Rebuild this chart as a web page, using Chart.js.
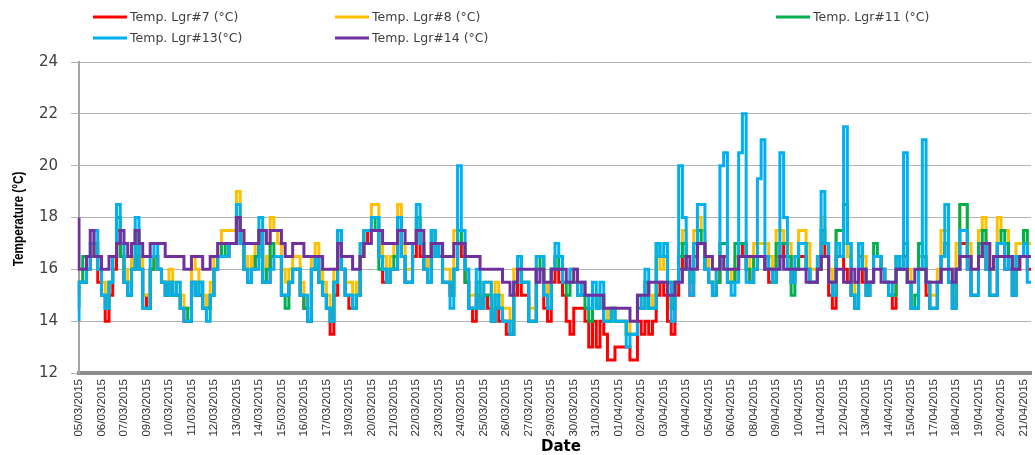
<!DOCTYPE html>
<html>
<head>
<meta charset="utf-8">
<script src="https://cdn.jsdelivr.net/npm/chart.js@4.4.0/dist/chart.umd.min.js"></script>
<style>
    html, body { margin: 0; padding: 0; background: #fff; }
    #wrap { width: 1035px; height: 455px; }
</style>
</head>
<body>
<div id="wrap"><canvas id="tempChart" width="1035" height="455"></canvas></div>
<script>
// one date label every 6 readings
const dateTicks = ['05/03/2015', '06/03/2015', '07/03/2015', '09/03/2015', '10/03/2015', '11/03/2015', '12/03/2015',
    '13/03/2015', '14/03/2015', '15/03/2015', '16/03/2015', '17/03/2015', '19/03/2015', '20/03/2015', '21/03/2015',
    '22/03/2015', '23/03/2015', '24/03/2015', '25/03/2015', '26/03/2015', '27/03/2015', '29/03/2015', '30/03/2015',
    '31/03/2015', '01/04/2015', '02/04/2015', '03/04/2015', '04/04/2015', '05/04/2015', '06/04/2015', '08/04/2015',
    '09/04/2015', '10/04/2015', '11/04/2015', '12/04/2015', '13/04/2015', '14/04/2015', '15/04/2015', '17/04/2015',
    '18/04/2015', '19/04/2015', '20/04/2015', '21/04/2015'];
const readingsPerTick = 6;

const lgr7 = [
    15.5, 15.5, 15.5, 16, 16.5, 16.5, 15.5, 15, 14, 15,
    16, 17.5, 16.5, 15.5, 15, 16, 16.5, 16, 15, 14.5,
    16, 16.5, 16, 15.5, 15, 15.5, 15, 15, 14.5, 14,
    14, 15.5, 15, 15, 14.5, 14.5, 15, 16, 16.5, 16.5,
    16.5, 17, 17, 18, 17, 16, 15.5, 16, 16.5, 17.5,
    15.5, 15.5, 16.5, 16.5, 16.5, 15, 15, 15.5, 16, 16,
    15, 14.5, 14, 16, 16, 15.5, 15, 14.5, 13.5, 15,
    17, 16, 15, 14.5, 14.5, 15, 16.5, 17, 17.5, 17.5,
    17.5, 16.5, 15.5, 15.5, 16, 16, 17.5, 16.5, 15.5, 15.5,
    16.5, 17.5, 16.5, 16, 15.5, 17, 16.5, 16.5, 15.5, 15.5,
    15, 16, 17, 16.5, 15.5, 14.5, 14, 15, 14.5, 15,
    14.5, 14, 14.5, 14, 14, 13.5, 13.5, 15, 16, 15,
    15, 14, 14, 16, 16, 14.5, 14, 15.5, 16, 15.5,
    15, 14, 13.5, 14.5, 14.5, 14.5, 14, 13, 14, 13,
    14, 13.5, 12.5, 12.5, 13, 13, 13, 13, 12.5, 12.5,
    14, 13.5, 14, 13.5, 14, 15, 15.5, 15, 14, 13.5,
    15, 16, 16.5, 16, 15, 16.5, 17, 17, 16, 15.5,
    15, 15.5, 16.5, 16.5, 15.5, 15.5, 16, 16.5, 17, 16,
    15.5, 16, 16.5, 16.5, 16, 15.5, 15.5, 16.5, 17, 16.5,
    16.5, 15.5, 16, 16.5, 16.5, 16, 15.5, 15.5, 16, 17,
    16.5, 15, 14.5, 16.5, 16.5, 16, 15.5, 15, 14.5, 16.5,
    15.5, 15, 15.5, 16.5, 16.5, 16, 15.5, 15, 14.5, 16,
    16, 16.5, 15.5, 14.5, 14.5, 16, 16, 15, 14.5, 14.5,
    15.5, 16.5, 17, 15.5, 14.5, 16, 17, 17, 16, 15,
    15, 16.5, 17, 16, 15, 15, 17, 17, 16, 16,
    15, 16, 16.5, 16.5, 16
];

const lgr8 = [
    15, 15.5, 16, 16.5, 16.5, 17, 16, 15.5, 14.5, 15.5,
    16.5, 18, 17, 16, 15.5, 16.5, 17.5, 16.5, 15, 15,
    16, 16.5, 16, 15.5, 15.5, 16, 15.5, 15.5, 15, 14.5,
    14.5, 16.5, 16, 15.5, 15, 14.5, 15.5, 16.5, 17, 17.5,
    17.5, 17.5, 17.5, 19, 17.5, 16.5, 16, 16.5, 17, 17.5,
    16, 16.5, 18, 17.5, 17, 16, 15.5, 16, 16.5, 16.5,
    15.5, 15, 14.5, 16.5, 17, 16, 15.5, 15, 14.5, 16,
    17.5, 16, 15.5, 15.5, 15, 15.5, 17, 17.5, 17.5, 18.5,
    18.5, 17, 16.5, 16, 16.5, 17, 18.5, 17, 16, 16,
    17, 18, 17, 16.5, 15.5, 17.5, 17, 17, 16, 16,
    15.5, 17.5, 17.5, 17, 16, 15, 15, 15.5, 15, 15.5,
    15.5, 14.5, 15.5, 15, 14.5, 14.5, 14, 16, 16.5, 15.5,
    15.5, 14.5, 14.5, 16.5, 16.5, 15.5, 15, 16, 16.5, 16.5,
    15.5, 15.5, 16, 15.5, 15, 15.5, 15, 14.5, 15, 14.5,
    15, 14.5, 14, 14.5, 14, 14, 14, 13.5, 14, 14,
    15, 14.5, 15.5, 14.5, 15, 16.5, 16, 16.5, 15.5, 14.5,
    15.5, 17, 17.5, 16, 15.5, 17.5, 18, 17.5, 16.5, 15.5,
    15.5, 16, 17, 17, 16, 15.5, 16.5, 17, 17, 16.5,
    16, 17, 17, 17, 17, 16.5, 16, 17.5, 17.5, 17,
    17, 16.5, 16.5, 17.5, 17.5, 17, 16, 16, 16.5, 18,
    17, 16, 15.5, 17.5, 17.5, 17, 16.5, 15.5, 15, 17,
    16.5, 15.5, 15.5, 16.5, 16.5, 16, 15.5, 15, 15, 16.5,
    16.5, 17, 16, 15, 15, 16.5, 16.5, 15.5, 15, 15,
    16, 17.5, 17.5, 16, 15, 17, 18.5, 18.5, 17, 16,
    16, 17.5, 18, 17, 16, 16, 18, 17.5, 17.5, 16.5,
    16, 17, 17, 17.5, 17
];

const lgr11 = [
    14.5, 15.5, 16.5, 16.5, 16.5, 17, 16, 15, 14.5, 15.5,
    16.5, 18, 16.5, 15.5, 15, 16, 17.5, 16, 14.5, 14.5,
    16, 16.5, 16, 15.5, 15, 15.5, 15, 15, 14.5, 14.5,
    14, 15.5, 15, 15.5, 14.5, 14.5, 15, 16, 16.5, 17,
    16.5, 17, 17, 18, 17, 16, 15.5, 16, 16.5, 17.5,
    15.5, 16, 17, 16.5, 16.5, 15, 14.5, 15.5, 16, 16,
    15, 14.5, 14, 16, 16.5, 15.5, 15, 14.5, 14, 15.5,
    17.5, 16, 15, 15, 14.5, 15, 16.5, 17.5, 17.5, 17.5,
    18, 16, 16, 15.5, 16, 16.5, 18, 16.5, 15.5, 15.5,
    17, 18, 17, 16, 15.5, 17.5, 16.5, 17, 15.5, 15.5,
    15, 16, 17.5, 17, 15.5, 14.5, 14.5, 15.5, 14.5, 15,
    15, 14, 15, 14.5, 14, 14, 13.5, 15.5, 16.5, 15.5,
    15.5, 14, 14, 16, 16.5, 15, 14.5, 16, 16.5, 16,
    15.5, 15, 15.5, 15.5, 15, 15, 14.5, 14, 15, 14.5,
    15, 14, 14, 14.5, 14, 14, 14, 13.5, 13.5, 13.5,
    14.5, 14.5, 15.5, 14.5, 14.5, 17, 16.5, 16.5, 15.5, 14.5,
    15.5, 16.5, 17, 16, 15.5, 17, 17.5, 17, 16, 15.5,
    15, 15.5, 17, 17, 15.5, 15.5, 17, 17, 17, 16,
    15.5, 16.5, 16.5, 16.5, 16, 16, 15.5, 17, 17, 17,
    16.5, 15, 16, 17, 17, 16, 15.5, 15.5, 16, 17.5,
    17, 15.5, 15, 17.5, 17.5, 18.5, 17, 15, 14.5, 17,
    16, 15, 15.5, 17, 16.5, 16, 15.5, 15, 15, 16.5,
    16, 17, 15.5, 14.5, 15, 17, 16.5, 15.5, 14.5, 14.5,
    15.5, 16.5, 17, 15.5, 14.5, 16, 18.5, 18.5, 16.5, 15,
    15, 17, 17.5, 16, 15, 15, 17, 17.5, 17, 16.5,
    15, 16.5, 16.5, 17.5, 16.5
];

const lgr13 = [
    14, 15.5, 15.5, 16, 17, 17.5, 16, 15, 14.5, 15.5,
    16.5, 18.5, 17, 15.5, 15, 16, 18, 16, 14.5, 14.5,
    16.5, 17, 16, 15.5, 15, 15.5, 15, 15.5, 14.5, 14,
    14, 15.5, 15, 15.5, 14.5, 14, 15, 16, 16.5, 16.5,
    16.5, 17, 17, 18.5, 17, 16, 15.5, 16, 16, 18,
    15.5, 15.5, 16, 16.5, 16.5, 15, 15, 15.5, 16, 16,
    15, 15, 14, 16, 16.5, 15.5, 15, 14.5, 14, 15.5,
    17.5, 16, 15, 15, 14.5, 15, 17, 17.5, 17.5, 18,
    18, 16.5, 16, 15.5, 16, 16, 18, 16.5, 15.5, 15.5,
    17, 18.5, 17, 16, 15.5, 17.5, 16.5, 17, 15.5, 15.5,
    14.5, 16, 20, 17.5, 16, 14.5, 14.5, 16, 14.5, 15.5,
    15.5, 14, 15, 14.5, 14, 14, 13.5, 15.5, 16.5, 15.5,
    15.5, 14, 14, 16.5, 16.5, 15, 14.5, 16, 17, 16.5,
    15.5, 15.5, 16, 16, 15, 15.5, 15, 14.5, 15.5, 14.5,
    15.5, 14, 14, 14.5, 14, 14, 14, 13, 13.5, 13.5,
    15, 14.5, 16, 14.5, 14.5, 17, 16.5, 17, 15.5, 14,
    15.5, 20, 18, 16, 15, 17, 18.5, 18.5, 16, 15.5,
    15, 16, 20, 20.5, 15.5, 15, 15.5, 20.5, 22, 15.5,
    15.5, 16, 19.5, 21, 16.5, 16, 15.5, 16, 20.5, 18,
    16, 15.5, 16.5, 17, 17, 16, 15.5, 15.5, 16.5, 19,
    17, 15.5, 15, 17, 16.5, 21.5, 17, 15, 14.5, 17,
    16, 15, 15.5, 16.5, 16.5, 16, 15.5, 15, 15.5, 16.5,
    16, 20.5, 15.5, 14.5, 14.5, 16, 21, 15.5, 14.5, 14.5,
    15.5, 16.5, 18.5, 15.5, 14.5, 16, 17.5, 17.5, 16, 15,
    15, 16.5, 17, 16, 15, 15, 17, 17, 16, 16.5,
    15, 16.5, 16.5, 17, 15.5
];

const lgr14 = [
    18, 16, 16, 16.5, 17.5, 16.5, 16.5, 16, 16, 16.5,
    16.5, 17, 17.5, 17, 16.5, 17, 17.5, 17, 16.5, 16.5,
    17, 17, 17, 17, 16.5, 16.5, 16.5, 16.5, 16.5, 16,
    16, 16.5, 16.5, 16.5, 16, 16, 16.5, 16.5, 17, 17,
    17, 17, 17, 18, 17.5, 17, 17, 17, 17, 17.5,
    17.5, 17, 17.5, 17.5, 17.5, 17, 16.5, 16.5, 17, 17,
    17, 16.5, 16.5, 16.5, 16.5, 16.5, 16, 16, 16, 16,
    17, 16.5, 16.5, 16.5, 16, 16, 16.5, 17, 17, 17.5,
    17.5, 17.5, 17, 17, 17, 17, 17.5, 17.5, 17, 17,
    17, 17.5, 17.5, 16.5, 16.5, 17, 17, 17, 16.5, 16.5,
    16.5, 17, 17, 17, 16.5, 16.5, 16.5, 16.5, 16, 16,
    16, 16, 16, 16, 15.5, 15.5, 15, 15.5, 16, 16,
    16, 16, 16, 15.5, 16, 15.5, 15.5, 16, 16, 16,
    16, 15.5, 15.5, 16, 15.5, 15.5, 15, 15, 15, 15,
    15, 14.5, 14.5, 14.5, 14.5, 14.5, 14.5, 14.5, 14, 14,
    15, 15, 15, 15.5, 15.5, 15.5, 15.5, 15.5, 15, 15,
    15.5, 15.5, 16, 16.5, 16, 16, 17, 17, 16.5, 16.5,
    16, 16, 16.5, 16, 16, 16, 16, 16.5, 16.5, 16.5,
    16.5, 16.5, 16.5, 16.5, 16, 16, 16, 16, 16.5, 16,
    16, 16, 16, 16, 16, 15.5, 15.5, 15.5, 16, 16.5,
    16.5, 15.5, 15.5, 16, 16, 15.5, 15.5, 16, 15.5, 16,
    16, 15.5, 15.5, 16, 16, 15.5, 15.5, 15.5, 15.5, 16,
    16, 16, 15.5, 15.5, 16, 16, 16, 15.5, 15.5, 15.5,
    15.5, 16, 16, 16, 15.5, 16, 16.5, 16.5, 16.5, 16,
    16, 16.5, 17, 17, 16, 16.5, 16.5, 16.5, 16.5, 16.5,
    16, 16, 16.5, 16.5, 16.5
];

const seriesNames = ['Temp. Lgr#7 (°C)', 'Temp. Lgr#8 (°C)', 'Temp. Lgr#11 (°C)', 'Temp. Lgr#13(°C)', 'Temp. Lgr#14 (°C)'];
const seriesColors = ['#ff0000', '#ffc000', '#00b050', '#00b0f0', '#7030a0'];

const labels = lgr13.map((v, i) => (i % readingsPerTick === 0 ? dateTicks[i / readingsPerTick] || '' : ''));

// legend and axis titles drawn by hand so they sit where the original has them
const gridLegend = {
    id: 'gridLegend',
    afterDraw(chart) {
        const ctx = chart.ctx;
        const spots = [[93, 17], [335, 17], [776, 17], [93, 38], [335, 38]];
        ctx.save();
        ctx.font = '12.5px "DejaVu Sans"';
        ctx.textBaseline = 'middle';
        chart.data.datasets.forEach((ds, i) => {
            const [x, y] = spots[i];
            ctx.strokeStyle = ds.borderColor;
            ctx.lineWidth = 3;
            ctx.beginPath();
            ctx.moveTo(x, y);
            ctx.lineTo(x + 34, y);
            ctx.stroke();
            ctx.fillStyle = '#404040';
            ctx.fillText(ds.label, x + 37, y + 1);
        });
        ctx.fillStyle = '#000';
        ctx.textAlign = 'center';
        ctx.font = 'bold 15px "DejaVu Sans"';
        ctx.fillText('Date', 561, 447);

        // narrow bold y title, squeezed along its length
        ctx.translate(19, 219);
        ctx.rotate(-Math.PI / 2);
        ctx.scale(0.84, 1);
        ctx.font = 'bold 14px "Liberation Sans"';
        ctx.fillText('Temperature (°C)', 0, 0);
        ctx.restore();
    }
};

function makeDataset(i, values) {
    return {
        label: seriesNames[i],
        data: values,
        borderColor: seriesColors[i],
        backgroundColor: seriesColors[i],
        borderWidth: 3,
        pointRadius: 0,
        stepped: 'after',
        fill: false,
        order: 4 - i
    };
}

const ctx = document.getElementById('tempChart').getContext('2d');
new Chart(ctx, {
    type: 'line',
    data: {
        labels: labels,
        datasets: [lgr7, lgr8, lgr11, lgr13, lgr14].map((v, i) => makeDataset(i, v))
    },
    options: {
        responsive: false,
        animation: false,
        devicePixelRatio: 1,
        layout: { padding: { top: 62, right: 4, left: 0, bottom: 0 } },
        plugins: {
            legend: { display: false },
            tooltip: { enabled: false }
        },
        scales: {
            x: {
                grid: { display: false, drawTicks: false },
                border: { display: true, color: '#8c8c8c', width: 4 },
                ticks: {
                    autoSkip: false,
                    minRotation: 90,
                    maxRotation: 90,
                    padding: 6,
                    color: '#333',
                    font: { family: '"Liberation Sans", sans-serif', size: 11.5 }
                },
                afterFit(scale) {
                    scale.height = 82;
                    scale.paddingLeft = 0;
                    scale.paddingRight = 0;
                }
            },
            y: {
                min: 12,
                max: 24,
                grid: { color: '#b4b4b4', lineWidth: 1, tickLength: 8 },
                border: { color: '#a6a6a6', width: 2 },
                ticks: {
                    stepSize: 2,
                    padding: 13,
                    color: '#404040',
                    font: { family: '"DejaVu Sans"', size: 15 }
                },
                afterFit(scale) { scale.width = 79; }
            }
        }
    },
    plugins: [gridLegend]
});
</script>
</body>
</html>
